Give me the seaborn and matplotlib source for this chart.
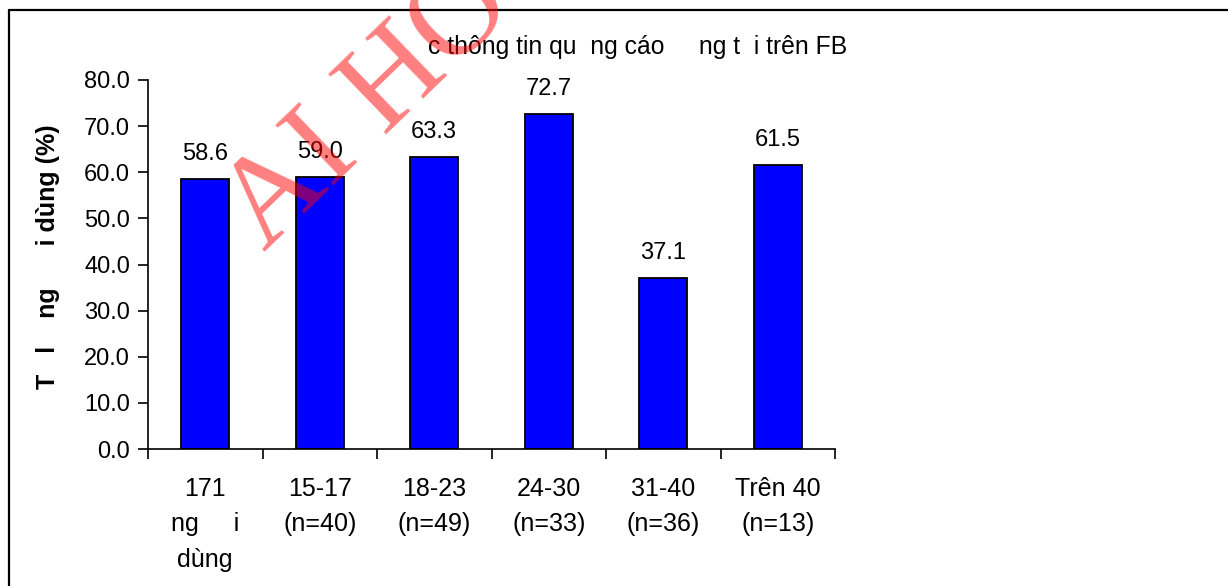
import seaborn as sns
import matplotlib.pyplot as plt
from matplotlib.lines import Line2D

# Data
categories = ['171\nng     i\ndùng', '15-17\n(n=40)', '18-23\n(n=49)',
              '24-30\n(n=33)', '31-40\n(n=36)', 'Trên 40\n(n=13)']
values = [58.6, 59.0, 63.3, 72.7, 37.1, 61.5]
yticks = [0, 10, 20, 30, 40, 50, 60, 70, 80]

title = 'c thông tin qu  ng cáo     ng t  i trên FB'
ylabel = 'T   l    ng      i dùng (%)'
watermark = 'AI HOC'

sns.set_style('ticks')
plt.rcParams['font.family'] = ['Liberation Sans', 'DejaVu Sans']
plt.rcParams['text.color'] = 'black'
plt.rcParams['xtick.color'] = 'black'
plt.rcParams['ytick.color'] = 'black'
plt.rcParams['axes.labelcolor'] = 'black'

fig = plt.figure(figsize=(12.28, 5.86), dpi=100)
ax = fig.add_axes([148 / 1228, 137 / 586, 687 / 1228, 369 / 586])

sns.barplot(x=list(range(len(values))), y=values, color='#0000ff',
            saturation=1, width=0.42, edgecolor='black', linewidth=1.3,
            ax=ax)

ax.set_ylim(0, 80)
ax.set_xlim(-0.5, len(values) - 0.5)
ax.set_yticks(yticks)
ax.set_yticklabels([f'{t:.1f}' for t in yticks], fontsize=17)

# ticks between categories, labels at the centres
ax.set_xticks([i - 0.5 for i in range(len(values) + 1)])
ax.set_xticklabels([])
ax.set_xticks(range(len(values)), minor=True)
ax.set_xticklabels(categories, minor=True, fontsize=18, linespacing=1.6)
ax.tick_params(axis='x', which='minor', length=0, pad=20)
ax.tick_params(axis='x', which='major', length=7, width=1.2, direction='out')
ax.tick_params(axis='y', length=7, width=1.2, direction='out', pad=6)

for s in ['top', 'right']:
    ax.spines[s].set_visible(False)
for s in ['left', 'bottom']:
    ax.spines[s].set_color('black')
    ax.spines[s].set_linewidth(1.2)

ax.bar_label(ax.containers[0], fmt='%.1f', padding=10, fontsize=17)

ax.set_ylabel(ylabel, fontsize=18, fontweight='bold')
ax.yaxis.set_label_coords(-0.128, 0.52)
ax.set_xlabel('')

fig.text(638 / 1228, 1 - 47 / 586, title, ha='center', va='center',
         fontsize=17.8)

# outer chart frame (top and left edges visible)
fig.add_artist(Line2D([9 / 1228, 1.0], [1 - 10 / 586, 1 - 10 / 586],
                      color='black', linewidth=1.6))
fig.add_artist(Line2D([9 / 1228, 9 / 1228], [0, 1 - 10 / 586],
                      color='black', linewidth=1.6))

fig.text(264 / 1228, 1 - 252 / 586, watermark, rotation=44,
         rotation_mode='anchor', ha='left', va='baseline', fontsize=92,
         family=['Liberation Serif', 'DejaVu Serif'], color='red',
         alpha=0.5, zorder=10)

fig.savefig('out.png', dpi=100)
